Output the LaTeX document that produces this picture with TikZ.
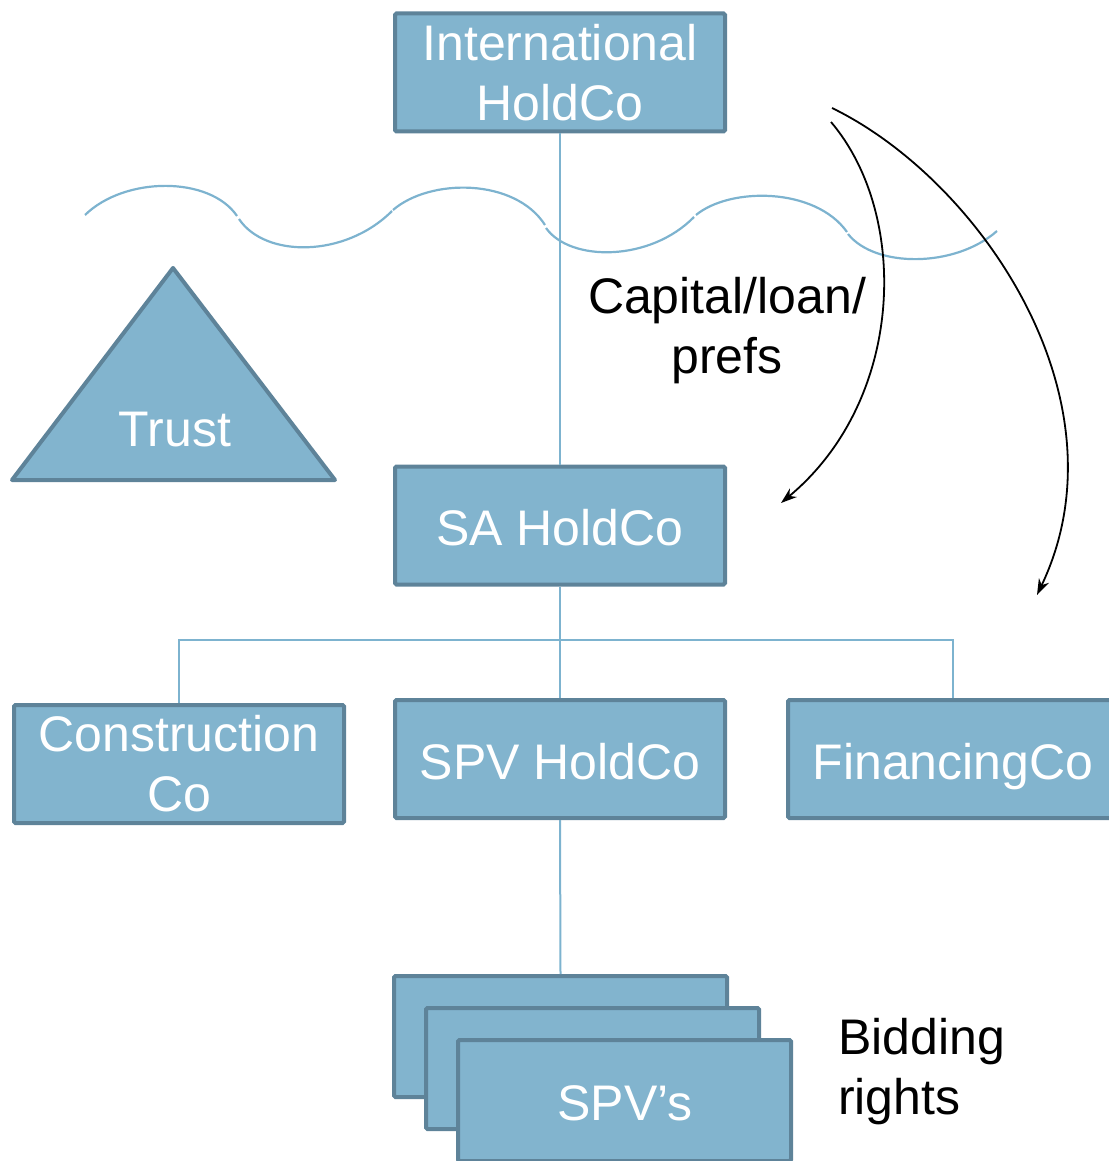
\documentclass[tikz,border=0pt]{standalone}
\usepackage{fontspec}
\setmainfont{Liberation Sans}
\usetikzlibrary{arrows.meta}
\definecolor{boxfill}{HTML}{82B4CE}
\definecolor{boxline}{HTML}{5E8399}
\definecolor{conn}{HTML}{7DB3CF}
\tikzset{
  orgbox/.style={draw=boxline, fill=boxfill, line width=4pt, rounded corners=1.5pt,
    minimum width=330pt, minimum height=118pt, inner sep=0pt, align=center,
    text=white, font=\fontsize{50}{60}\selectfont},
  oneline/.style={text height=40pt, text depth=0pt},
  lbl/.style={inner sep=0pt, align=center, text=black, font=\fontsize{50}{60}\selectfont},
  connector/.style={draw=conn, line width=2pt},
  wave/.style={draw=conn, line width=2.2pt},
  flow/.style={draw=black, line width=1.8pt, -{Stealth[length=16pt,width=11pt,inset=5pt]}}
}
\begin{document}
\begin{tikzpicture}[x=1pt, y=-1pt]
\useasboundingbox (0,0) rectangle (1108,1161);
% wave
\draw[wave] (85,215) .. controls (125,176) and (210,176) .. (237,216);
\draw[wave] (239,219) .. controls (265,258) and (345,258) .. (392,211);
\draw[wave] (393,210) .. controls (430,178) and (515,178) .. (545,225);
\draw[wave] (546,228) .. controls (570,262) and (650,262) .. (694,217);
\draw[wave] (696,215) .. controls (730,187) and (815,187) .. (847,232);
\draw[wave] (848,234) .. controls (875,268) and (955,268) .. (997,231);
% boxes
\node[orgbox] (ih) at (560,72.5) {International\\HoldCo};
\node[orgbox, oneline] (sa) at (560,525.5) {SA HoldCo};
\node[orgbox] (con) at (179,764) {Construction\\Co};
\node[orgbox, oneline] (spvh) at (560,759) {SPV HoldCo};
\node[orgbox, oneline] (fin) at (953,759) {FinancingCo};
\node[orgbox, minimum width=333pt, minimum height=121pt] (s1) at (560.5,1036.5) {};
\node[orgbox, minimum width=333pt, minimum height=121pt] (s2) at (592.5,1068.5) {};
\node[orgbox, minimum width=333pt, minimum height=121pt] (s3) at (624.5,1100.5) {};
\node[lbl, text=white] (spvs) at (625,1103) {SPV’s};
% trust
\draw[draw=boxline, fill=boxfill, line width=4pt, line join=round] (173,268) -- (335,480) -- (12,480) -- cycle;
\node[lbl, text=white] (trust) at (175,430) {Trust};
% connectors
\draw[connector] (ih.south) -- (sa.north);
\draw[connector] (sa.south) -- (spvh.north);
\coordinate (bus) at (560,640);
\draw[connector] (con.north) |- (bus) -| (fin.north);
\draw[connector] (spvh.south) -- (s1.north);
% labels
\node[lbl] (cap) at (727,331) {Capital/loan/\\prefs};
\node[lbl, align=left, anchor=west] (bid) at (838,1072) {Bidding\\rights};
% arrows
\coordinate (a1s) at (831,122);
\coordinate (a1e) at (781,503);
\coordinate (a2s) at (832,108);
\coordinate (a2e) at (1037,595);
\draw[flow] (a1s) .. controls (910,215) and (905,400) .. (a1e);
\draw[flow] (a2s) .. controls (980,180) and (1130,400) .. (a2e);
\end{tikzpicture}
\end{document}
